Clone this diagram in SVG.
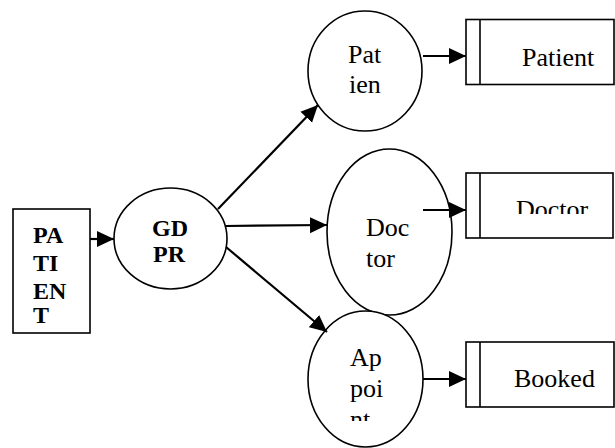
<svg xmlns="http://www.w3.org/2000/svg" width="615" height="448" viewBox="0 0 615 448">
  <style>
    .shape { fill: #fff; stroke: #000; stroke-width: 1.6; }
    .bar { stroke: #000; stroke-width: 1.6; }
    .lbl { font-family: 'Liberation Serif', 'DejaVu Serif', serif; font-size: 26px; fill: #000; }
    .bold { font-family: 'Liberation Serif', 'DejaVu Serif', serif; font-size: 24px; font-weight: bold; fill: #000; }
    .edge { stroke: #000; stroke-width: 2.2; fill: none; marker-end: url(#head); }
  </style>
  <defs>
    <marker id="head" markerUnits="userSpaceOnUse" markerWidth="18" markerHeight="18" refX="17" refY="9" orient="auto">
      <path d="M0,1 L17,9 L0,17 Z" fill="#000"/>
    </marker>
    <clipPath id="clipAppoint"><rect x="300" y="330" width="130" height="91"/></clipPath>
    <clipPath id="clipDoctorStore"><rect x="482" y="180" width="130" height="34"/></clipPath>
  </defs>
  <rect width="615" height="448" fill="#fff"/>

  <!-- external entity -->
  <g id="patient-entity">
    <rect class="shape" x="13" y="209" width="77" height="124"/>
    <text class="bold" x="33" y="243">PA</text>
    <text class="bold" x="33" y="271">TI</text>
    <text class="bold" x="33" y="299">EN</text>
    <text class="bold" x="33" y="323">T</text>
  </g>

  <!-- central process -->
  <g id="gdpr">
    <ellipse class="shape" cx="170.5" cy="238.5" rx="56.5" ry="50.5"/>
    <text class="bold" x="152" y="236">GD</text>
    <text class="bold" x="153" y="262">PR</text>
  </g>

  <!-- sub-processes -->
  <g id="proc-patient">
    <ellipse class="shape" cx="365" cy="71" rx="57" ry="60"/>
    <text class="lbl" x="348" y="63">Pat</text>
    <text class="lbl" x="349" y="93">ien</text>
  </g>
  <g id="proc-doctor">
    <ellipse class="shape" cx="389.5" cy="232" rx="62.5" ry="83"/>
    <text class="lbl" x="366" y="236">Doc</text>
    <text class="lbl" x="366" y="267">tor</text>
  </g>
  <g id="proc-appoint">
    <ellipse class="shape" cx="365.5" cy="379" rx="57.5" ry="68"/>
    <g clip-path="url(#clipAppoint)">
      <text class="lbl" x="350" y="366">Ap</text>
      <text class="lbl" x="350" y="397">poi</text>
      <text class="lbl" x="350" y="428">nt</text>
    </g>
  </g>

  <!-- data stores -->
  <g id="store-patient">
    <rect class="shape" x="466" y="19.5" width="148" height="65"/>
    <line class="bar" x1="480" y1="19.5" x2="480" y2="84.5"/>
    <text class="lbl" x="522" y="66">Patient</text>
  </g>
  <g id="store-doctor">
    <rect class="shape" x="466" y="173" width="147" height="65"/>
    <line class="bar" x1="480" y1="173" x2="480" y2="238"/>
    <text class="lbl" x="516" y="218" clip-path="url(#clipDoctorStore)">Doctor</text>
  </g>
  <g id="store-booked">
    <rect class="shape" x="466" y="342" width="148" height="65"/>
    <line class="bar" x1="480" y1="342" x2="480" y2="407"/>
    <text class="lbl" x="514" y="387">Booked</text>
  </g>

  <!-- data flows -->
  <g id="connectors">
    <line class="edge" x1="90" y1="239" x2="114" y2="239"/>
    <line class="edge" x1="218" y1="209" x2="318" y2="105"/>
    <line class="edge" x1="226" y1="226" x2="327" y2="225"/>
    <line class="edge" x1="226" y1="247" x2="327" y2="332"/>
    <line class="edge" x1="423" y1="56" x2="466" y2="56"/>
    <line class="edge" x1="423" y1="210" x2="466" y2="210"/>
    <line class="edge" x1="423" y1="379" x2="466" y2="379"/>
  </g>
</svg>
